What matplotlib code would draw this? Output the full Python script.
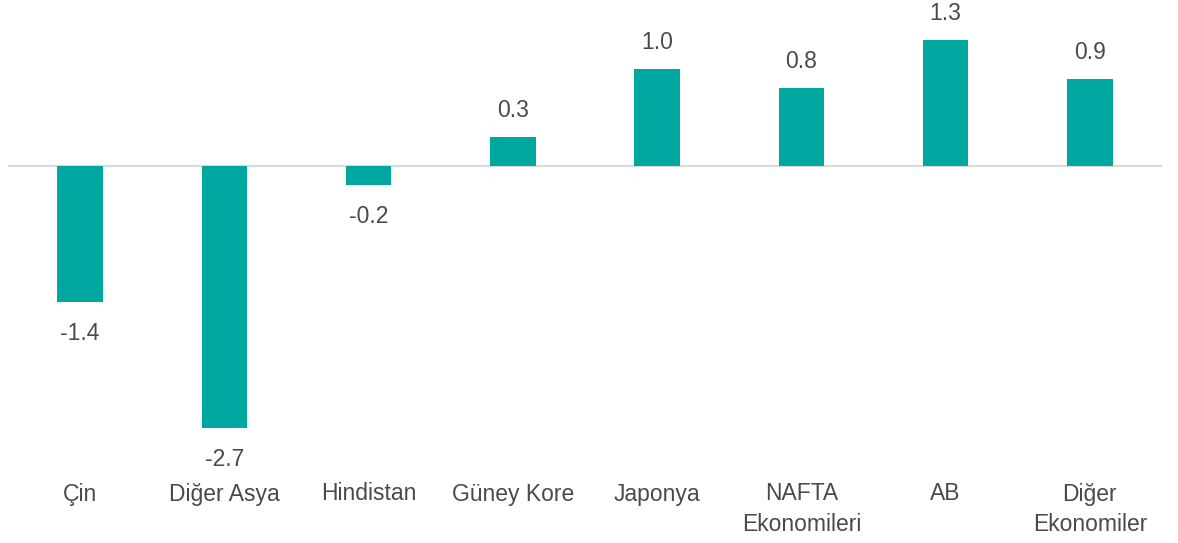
import matplotlib.pyplot as plt

# data
categories = ['Çin', 'Diğer Asya', 'Hindistan', 'Güney Kore', 'Japonya',
              'NAFTA\nEkonomileri', 'AB', 'Diğer\nEkonomiler']
values = [-1.4, -2.7, -0.2, 0.3, 1.0, 0.8, 1.3, 0.9]
value_labels = ['-1.4', '-2.7', '-0.2', '0.3', '1.0', '0.8', '1.3', '0.9']

bar_color = '#00A6A0'
text_color = '#4a4a4a'

plt.rcParams['font.family'] = ['Liberation Sans', 'DejaVu Sans']

W, H = 1178, 543
fig = plt.figure(figsize=(W / 100, H / 100), dpi=100)
# axes placed in pixel terms: x 8..1162, y 0..470 (from top)
ax = fig.add_axes([8 / W, (H - 470) / H, 1154 / W, 470 / H])

x = list(range(len(categories)))
ax.bar(x, values, width=0.315, color=bar_color, zorder=2)
ax.axhline(0, color='#d9d9d9', linewidth=1.5, zorder=1)

ax.set_xlim(-0.5, len(categories) - 0.5)
ax.set_ylim(-3.134, 1.711)

fs = 16.5
for xi, v, lab in zip(x, values, value_labels):
    if v >= 0:
        ax.annotate(lab, (xi, v), xytext=(0, 20), textcoords='offset pixels',
                    ha='center', va='baseline', fontsize=fs, color=text_color)
    else:
        ax.annotate(lab, (xi, v), xytext=(0, -20), textcoords='offset pixels',
                    ha='center', va='top', fontsize=fs, color=text_color)

ax.set_xticks(x)
ax.set_xticklabels(categories, fontsize=fs, color=text_color, linespacing=1.4)
ax.tick_params(axis='x', length=0, pad=9)
ax.set_yticks([])
for s in ax.spines.values():
    s.set_visible(False)

fig.savefig('out.png', dpi=100)
